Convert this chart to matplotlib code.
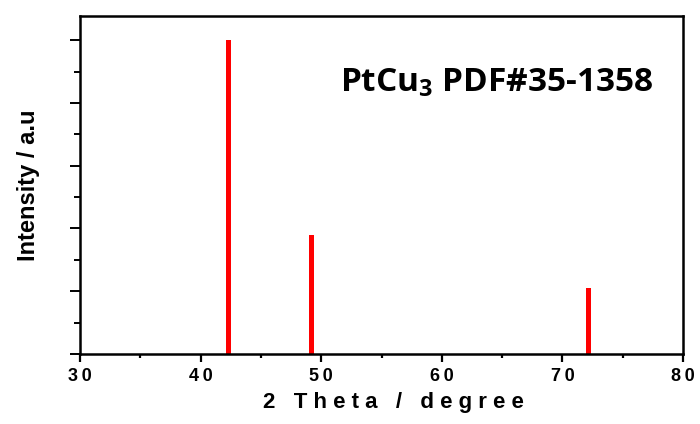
import numpy as np
import matplotlib.pyplot as plt
from matplotlib.ticker import MultipleLocator, FuncFormatter

# Reference peaks of PtCu3 (PDF#35-1358)
two_theta = [42.3, 49.2, 72.2]
intensity = [100, 38, 21]
x_ticks = [30, 40, 50, 60, 70, 80]

plt.rcParams['font.family'] = ['Liberation Sans', 'DejaVu Sans']
plt.rcParams['mathtext.fontset'] = 'custom'
plt.rcParams['mathtext.rm'] = 'Open Sans:bold'
plt.rcParams['mathtext.default'] = 'rm'

fig = plt.figure(figsize=(7, 4.24), dpi=100)
ax = fig.add_axes([80 / 700, 1 - 354 / 424, 603 / 700, 338 / 424])

ax.bar(two_theta, intensity, width=0.42, color='#ff0000', linewidth=0)

ax.set_xlim(30, 80)
ax.set_ylim(0, 107.7)
ax.set_xticks(x_ticks)
ax.xaxis.set_minor_locator(MultipleLocator(5))
ax.yaxis.set_major_locator(MultipleLocator(20))
ax.yaxis.set_minor_locator(MultipleLocator(10))
ax.set_yticklabels([])
ax.xaxis.set_major_formatter(FuncFormatter(lambda v, p: '\u2009'.join(str(int(v)))))

for s in ax.spines.values():
    s.set_linewidth(1.8)
ax.tick_params(axis='x', which='major', direction='out', length=6, width=1.6,
               labelsize=13, pad=4)
ax.tick_params(axis='x', which='minor', direction='out', length=3, width=1.6)
ax.tick_params(axis='y', which='major', direction='out', length=7, width=1.4)
ax.tick_params(axis='y', which='minor', direction='out', length=4, width=1.4)
for lab in ax.get_xticklabels():
    lab.set_fontweight('bold')

ax.set_xlabel('2   T h e t a   /   d e g r e e', fontsize=16, fontweight='bold', labelpad=5)
ax.xaxis.label.set_x(0.519)
ax.set_ylabel('Intensity / a.u', fontsize=17, fontweight='bold', labelpad=18)

ax.text(0.950, 0.775, r'PtCu$_3$ PDF#35-1358', transform=ax.transAxes, ha='right',
        va='baseline', fontsize=24, fontweight='bold', family='Open Sans')

fig.savefig('out.png', dpi=100)
